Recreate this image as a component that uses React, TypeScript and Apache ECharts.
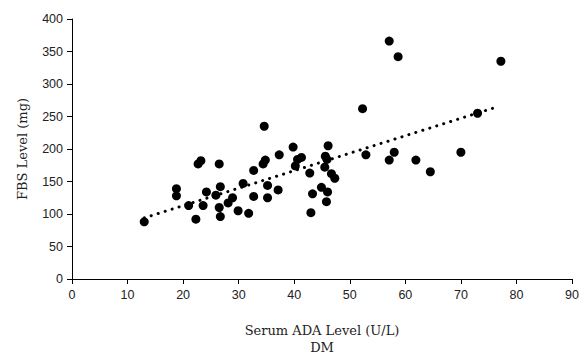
import React, { useEffect, useRef } from "react";
import * as echarts from "echarts";

const adaValues: number[] = [
  13, 18.8, 18.8, 21, 22.3, 22.7, 23.2, 23.6, 24.2, 25.9, 26.5, 26.7, 26.5, 26.7,
  28.1, 28.9, 29.9, 30.8, 31.8, 32.7, 32.7, 34.4, 34.8, 34.6, 35.2, 35.2, 37.1,
  37.3, 39.8, 40.2, 40.6, 41.3, 42.8, 43.3, 43.0, 44.9, 46.0, 45.8, 45.5, 45.9,
  45.6, 46.1, 46.7, 47.3, 52.3, 52.9, 57.1, 58.7, 57.1, 58.0, 61.9, 64.5, 70.0,
  73.0, 77.2,
];
const fbsValues: number[] = [
  88, 139, 128, 113, 92, 177, 182, 113, 134, 129, 177, 142, 110, 96,
  117, 125, 105, 147, 101, 167, 127, 177, 183, 235, 144, 125, 137,
  191, 203, 174, 184, 187, 163, 131, 102, 141, 134, 119, 172, 184,
  189, 205, 162, 155, 262, 191, 366, 342, 183, 195, 183, 165, 195,
  255, 335,
];
const trendX: number[] = [13, 76.6];
const trendY: number[] = [94, 265];

const xTitle = "Serum ADA Level (U/L)\nDM";
const yTitle = "FBS Level (mg)";

export default function App() {
  const ref = useRef<HTMLDivElement>(null);
  useEffect(() => {
    document.body.style.margin = "0";
    if (!ref.current) return;
    const chart = echarts.init(ref.current, undefined, { renderer: "svg" });
    const points = adaValues.map((x, i) => [x, fbsValues[i]]);
    const trend = trendX.map((x, i) => [x, trendY[i]]);
    chart.setOption({
      animation: false,
      backgroundColor: "#ffffff",
      grid: { left: 72, right: 15, top: 19, bottom: 74, containLabel: false },
      xAxis: {
        type: "value",
        min: 0,
        max: 90,
        interval: 10,
        name: xTitle,
        nameLocation: "middle",
        nameGap: 43,
        nameTextStyle: {
          fontFamily: "DejaVu Serif",
          fontSize: 13,
          color: "#222",
          lineHeight: 17,
        },
        axisLine: { show: true, onZero: false, lineStyle: { color: "#000", width: 1 } },
        axisTick: { show: true, inside: false, length: 5, lineStyle: { color: "#000" } },
        axisLabel: { fontFamily: "Liberation Sans", fontSize: 12.5, color: "#222", margin: 9 },
        splitLine: { show: false },
      },
      yAxis: {
        type: "value",
        min: 0,
        max: 400,
        interval: 50,
        name: yTitle,
        nameLocation: "middle",
        nameGap: 43,
        nameRotate: 90,
        nameTextStyle: { fontFamily: "DejaVu Serif", fontSize: 13, color: "#222" },
        axisLine: { show: true, lineStyle: { color: "#000", width: 1 } },
        axisTick: { show: true, inside: false, length: 5, lineStyle: { color: "#000" } },
        axisLabel: { fontFamily: "Liberation Sans", fontSize: 12.5, color: "#222", margin: 9 },
        splitLine: { show: false },
      },
      series: [
        {
          type: "line",
          data: trend,
          symbol: "none",
          silent: true,
          lineStyle: { color: "#000", width: 3, type: [0.1, 7.2], cap: "round" },
          z: 1,
        },
        {
          type: "scatter",
          data: points,
          symbol: "circle",
          symbolSize: 9,
          itemStyle: { color: "#000", opacity: 1 },
          z: 2,
        },
      ],
    });
    return () => chart.dispose();
  }, []);
  return <div ref={ref} style={{ width: 587, height: 361 }} />;
}
